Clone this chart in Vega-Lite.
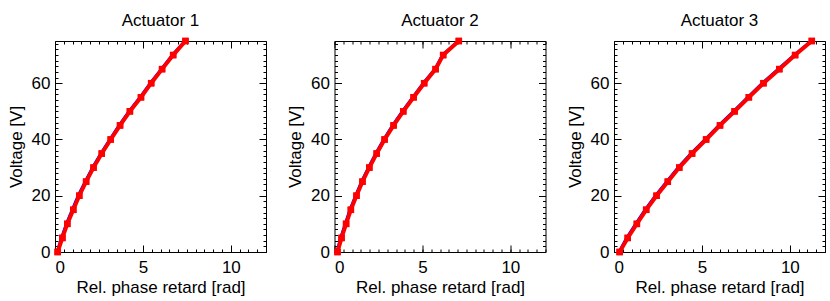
{
"$schema": "https://vega.github.io/schema/vega-lite/v6.json",
"padding": {"left": 6, "top": 11, "right": 0, "bottom": 0},
"spacing": 18.5,
"datasets": {"d": [
{"a":"Actuator 1","v":0,"fit":0.15,"meas":0.12},
{"a":"Actuator 1","v":5,"fit":0.42,"meas":0.37},
{"a":"Actuator 1","v":10,"fit":0.70,"meas":0.65},
{"a":"Actuator 1","v":15,"fit":1.04,"meas":0.98},
{"a":"Actuator 1","v":20,"fit":1.38,"meas":1.32},
{"a":"Actuator 1","v":25,"fit":1.77,"meas":1.72},
{"a":"Actuator 1","v":30,"fit":2.19,"meas":2.14},
{"a":"Actuator 1","v":35,"fit":2.66,"meas":2.61},
{"a":"Actuator 1","v":40,"fit":3.17,"meas":3.12},
{"a":"Actuator 1","v":45,"fit":3.70,"meas":3.65},
{"a":"Actuator 1","v":50,"fit":4.26,"meas":4.21},
{"a":"Actuator 1","v":55,"fit":4.89,"meas":4.84},
{"a":"Actuator 1","v":60,"fit":5.47,"meas":5.42},
{"a":"Actuator 1","v":65,"fit":6.09,"meas":6.05},
{"a":"Actuator 1","v":70,"fit":6.72,"meas":6.68},
{"a":"Actuator 1","v":75,"fit":7.42,"meas":7.40},
{"a":"Actuator 2","v":0,"fit":0.17,"meas":0.14},
{"a":"Actuator 2","v":5,"fit":0.40,"meas":0.35},
{"a":"Actuator 2","v":10,"fit":0.66,"meas":0.61},
{"a":"Actuator 2","v":15,"fit":0.93,"meas":0.88},
{"a":"Actuator 2","v":20,"fit":1.25,"meas":1.20},
{"a":"Actuator 2","v":25,"fit":1.59,"meas":1.54},
{"a":"Actuator 2","v":30,"fit":1.98,"meas":1.93},
{"a":"Actuator 2","v":35,"fit":2.40,"meas":2.35},
{"a":"Actuator 2","v":40,"fit":2.85,"meas":2.80},
{"a":"Actuator 2","v":45,"fit":3.36,"meas":3.31},
{"a":"Actuator 2","v":50,"fit":3.91,"meas":3.86},
{"a":"Actuator 2","v":55,"fit":4.50,"meas":4.45},
{"a":"Actuator 2","v":60,"fit":5.10,"meas":5.05},
{"a":"Actuator 2","v":65,"fit":5.75,"meas":5.71},
{"a":"Actuator 2","v":70,"fit":6.18,"meas":6.15},
{"a":"Actuator 2","v":75,"fit":7.07,"meas":7.05},
{"a":"Actuator 3","v":0,"fit":0.32,"meas":0.29},
{"a":"Actuator 3","v":5,"fit":0.78,"meas":0.72},
{"a":"Actuator 3","v":10,"fit":1.30,"meas":1.24},
{"a":"Actuator 3","v":15,"fit":1.83,"meas":1.77},
{"a":"Actuator 3","v":20,"fit":2.42,"meas":2.36},
{"a":"Actuator 3","v":25,"fit":3.06,"meas":3.00},
{"a":"Actuator 3","v":30,"fit":3.71,"meas":3.65},
{"a":"Actuator 3","v":35,"fit":4.44,"meas":4.38},
{"a":"Actuator 3","v":40,"fit":5.24,"meas":5.18},
{"a":"Actuator 3","v":45,"fit":6.03,"meas":5.97},
{"a":"Actuator 3","v":50,"fit":6.86,"meas":6.80},
{"a":"Actuator 3","v":55,"fit":7.67,"meas":7.61},
{"a":"Actuator 3","v":60,"fit":8.50,"meas":8.44},
{"a":"Actuator 3","v":65,"fit":9.40,"meas":9.34},
{"a":"Actuator 3","v":70,"fit":10.30,"meas":10.25},
{"a":"Actuator 3","v":75,"fit":11.25,"meas":11.22}
]},
"data": {"name": "d"},
"hconcat": [
{"width":211,"height":211,"title":"Actuator 1",
 "transform":[{"filter":"datum.a === 'Actuator 1'"}],
 "layer":[
  {"mark":{"type":"line","color":"#0000ff","strokeWidth":3},
   "encoding":{"x":{"field":"meas","type":"quantitative","scale":{"domain":[0,12],"nice":false},"axis":{"orient":"bottom","values":[0,5,10],"tickSize":-7,"labelPadding":14,"titlePadding":4,"title":"Rel. phase retard [rad]"}},
               "y":{"field":"v","type":"quantitative","scale":{"domain":[0,75],"nice":false},"axis":{"orient":"left","values":[0,20,40,60],"tickSize":-7,"labelPadding":12,"titlePadding":6,"title":"Voltage [V]"}}}},
  {"mark":{"type":"line","color":"#ff0000","strokeWidth":4},
   "encoding":{"x":{"field":"fit","type":"quantitative","axis":{"orient":"bottom","values":[0,0.5,1,1.5,2,2.5,3,3.5,4,4.5,5,5.5,6,6.5,7,7.5,8,8.5,9,9.5,10,10.5,11,11.5,12],"tickSize":-3,"labels":false,"title":null}},
               "y":{"field":"v","type":"quantitative","axis":{"orient":"left","values":[0,2,4,6,8,10,12,14,16,18,20,22,24,26,28,30,32,34,36,38,40,42,44,46,48,50,52,54,56,58,60,62,64,66,68,70,72,74],"tickSize":-3,"labels":false,"title":null}}}},
  {"mark":{"type":"square","color":"#ff0000","size":42,"opacity":1},
   "encoding":{"x":{"field":"fit","type":"quantitative","axis":{"orient":"top","values":[0,5,10],"tickSize":-7,"labels":false,"title":null}},
               "y":{"field":"v","type":"quantitative","axis":{"orient":"right","values":[0,20,40,60],"tickSize":-7,"labels":false,"title":null}}}},
  {"mark":{"type":"square","color":"#ff0000","size":42,"opacity":1},
   "encoding":{"x":{"field":"fit","type":"quantitative","axis":{"orient":"top","values":[0,0.5,1,1.5,2,2.5,3,3.5,4,4.5,5,5.5,6,6.5,7,7.5,8,8.5,9,9.5,10,10.5,11,11.5,12],"tickSize":-3,"labels":false,"title":null}},
               "y":{"field":"v","type":"quantitative","axis":{"orient":"right","values":[0,2,4,6,8,10,12,14,16,18,20,22,24,26,28,30,32,34,36,38,40,42,44,46,48,50,52,54,56,58,60,62,64,66,68,70,72,74],"tickSize":-3,"labels":false,"title":null}}}}
 ],
 "resolve":{"axis":{"x":"independent","y":"independent"}}},
{"width":211,"height":211,"title":"Actuator 2",
 "transform":[{"filter":"datum.a === 'Actuator 2'"}],
 "layer":[
  {"mark":{"type":"line","color":"#0000ff","strokeWidth":3},
   "encoding":{"x":{"field":"meas","type":"quantitative","scale":{"domain":[0,12],"nice":false},"axis":{"orient":"bottom","values":[0,5,10],"tickSize":-7,"labelPadding":14,"titlePadding":4,"title":"Rel. phase retard [rad]"}},
               "y":{"field":"v","type":"quantitative","scale":{"domain":[0,75],"nice":false},"axis":{"orient":"left","values":[0,20,40,60],"tickSize":-7,"labelPadding":12,"titlePadding":6,"title":"Voltage [V]"}}}},
  {"mark":{"type":"line","color":"#ff0000","strokeWidth":4},
   "encoding":{"x":{"field":"fit","type":"quantitative","axis":{"orient":"bottom","values":[0,0.5,1,1.5,2,2.5,3,3.5,4,4.5,5,5.5,6,6.5,7,7.5,8,8.5,9,9.5,10,10.5,11,11.5,12],"tickSize":-3,"labels":false,"title":null}},
               "y":{"field":"v","type":"quantitative","axis":{"orient":"left","values":[0,2,4,6,8,10,12,14,16,18,20,22,24,26,28,30,32,34,36,38,40,42,44,46,48,50,52,54,56,58,60,62,64,66,68,70,72,74],"tickSize":-3,"labels":false,"title":null}}}},
  {"mark":{"type":"square","color":"#ff0000","size":42,"opacity":1},
   "encoding":{"x":{"field":"fit","type":"quantitative","axis":{"orient":"top","values":[0,5,10],"tickSize":-7,"labels":false,"title":null}},
               "y":{"field":"v","type":"quantitative","axis":{"orient":"right","values":[0,20,40,60],"tickSize":-7,"labels":false,"title":null}}}},
  {"mark":{"type":"square","color":"#ff0000","size":42,"opacity":1},
   "encoding":{"x":{"field":"fit","type":"quantitative","axis":{"orient":"top","values":[0,0.5,1,1.5,2,2.5,3,3.5,4,4.5,5,5.5,6,6.5,7,7.5,8,8.5,9,9.5,10,10.5,11,11.5,12],"tickSize":-3,"labels":false,"title":null}},
               "y":{"field":"v","type":"quantitative","axis":{"orient":"right","values":[0,2,4,6,8,10,12,14,16,18,20,22,24,26,28,30,32,34,36,38,40,42,44,46,48,50,52,54,56,58,60,62,64,66,68,70,72,74],"tickSize":-3,"labels":false,"title":null}}}}
 ],
 "resolve":{"axis":{"x":"independent","y":"independent"}}},
{"width":211,"height":211,"title":"Actuator 3",
 "transform":[{"filter":"datum.a === 'Actuator 3'"}],
 "layer":[
  {"mark":{"type":"line","color":"#0000ff","strokeWidth":3},
   "encoding":{"x":{"field":"meas","type":"quantitative","scale":{"domain":[0,12],"nice":false},"axis":{"orient":"bottom","values":[0,5,10],"tickSize":-7,"labelPadding":14,"titlePadding":4,"title":"Rel. phase retard [rad]"}},
               "y":{"field":"v","type":"quantitative","scale":{"domain":[0,75],"nice":false},"axis":{"orient":"left","values":[0,20,40,60],"tickSize":-7,"labelPadding":12,"titlePadding":6,"title":"Voltage [V]"}}}},
  {"mark":{"type":"line","color":"#ff0000","strokeWidth":4},
   "encoding":{"x":{"field":"fit","type":"quantitative","axis":{"orient":"bottom","values":[0,0.5,1,1.5,2,2.5,3,3.5,4,4.5,5,5.5,6,6.5,7,7.5,8,8.5,9,9.5,10,10.5,11,11.5,12],"tickSize":-3,"labels":false,"title":null}},
               "y":{"field":"v","type":"quantitative","axis":{"orient":"left","values":[0,2,4,6,8,10,12,14,16,18,20,22,24,26,28,30,32,34,36,38,40,42,44,46,48,50,52,54,56,58,60,62,64,66,68,70,72,74],"tickSize":-3,"labels":false,"title":null}}}},
  {"mark":{"type":"square","color":"#ff0000","size":42,"opacity":1},
   "encoding":{"x":{"field":"fit","type":"quantitative","axis":{"orient":"top","values":[0,5,10],"tickSize":-7,"labels":false,"title":null}},
               "y":{"field":"v","type":"quantitative","axis":{"orient":"right","values":[0,20,40,60],"tickSize":-7,"labels":false,"title":null}}}},
  {"mark":{"type":"square","color":"#ff0000","size":42,"opacity":1},
   "encoding":{"x":{"field":"fit","type":"quantitative","axis":{"orient":"top","values":[0,0.5,1,1.5,2,2.5,3,3.5,4,4.5,5,5.5,6,6.5,7,7.5,8,8.5,9,9.5,10,10.5,11,11.5,12],"tickSize":-3,"labels":false,"title":null}},
               "y":{"field":"v","type":"quantitative","axis":{"orient":"right","values":[0,2,4,6,8,10,12,14,16,18,20,22,24,26,28,30,32,34,36,38,40,42,44,46,48,50,52,54,56,58,60,62,64,66,68,70,72,74],"tickSize":-3,"labels":false,"title":null}}}}
 ],
 "resolve":{"axis":{"x":"independent","y":"independent"}}}
],
"config": {
 "view": {"stroke": "black", "strokeWidth": 1},
 "font": "Liberation Sans",
 "axis": {"domain": false, "grid": false, "labelFont": "Liberation Sans", "labelFontSize": 17, "labelColor": "black", "titleFont": "Liberation Sans", "titleFontSize": 17, "titleFontWeight": "normal", "titleColor": "black", "tickColor": "black", "tickWidth": 1},
 "title": {"font": "Liberation Sans", "fontSize": 17, "fontWeight": "normal", "color": "black", "offset": 3}
}
}
